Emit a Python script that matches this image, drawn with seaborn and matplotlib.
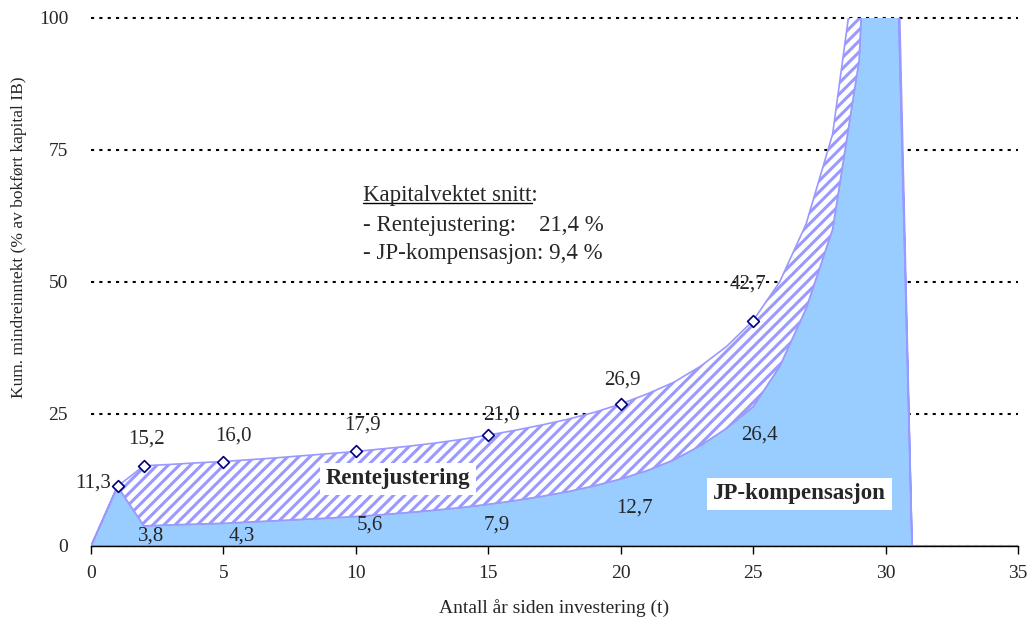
import matplotlib
matplotlib.use('Agg')
import matplotlib.pyplot as plt
from matplotlib.lines import Line2D
import seaborn as sns

# År siden investering (t)
aar = list(range(0, 36))

# JP-kompensasjon, kumulativ (nedre flate)
jp_komp = [0, 11.3, 3.8, 4.0, 4.15, 4.3, 4.55, 4.8, 5.05, 5.3,
           5.6, 5.95, 6.35, 6.8, 7.3, 7.9, 8.6, 9.4, 10.3, 11.4,
           12.7, 14.3, 16.3, 19.0, 22.3, 26.4, 34, 45, 60, 92,
           200, 0, 0, 0, 0, 0]

# JP-kompensasjon + rentejustering (øvre kant)
kum_total = [0, 11.3, 15.2, 15.45, 15.75, 16.0, 16.35, 16.7, 17.1, 17.5,
             17.9, 18.4, 18.9, 19.5, 20.2, 21.0, 21.9, 22.9, 24.0, 25.3,
             26.9, 28.8, 31.0, 34.0, 37.8, 42.7, 50, 61, 78, 115,
             215, 0, 0, 0, 0, 0]

# år med markør / etikett
merk_aar = [1, 2, 5, 10, 15, 20, 25]
jp_merk_aar = [2, 5, 10, 15, 20, 25]

# etikett-forskyvning i piksler (dx, dy)
total_offs = [(-24, 3), (2, 27), (10, 25), (7, 26), (13, 20), (2, 24), (-5, 36)]
jp_offs = [(7, -10), (18, -13), (14, -9), (8, -21), (14, -29), (6, -28)]

x_ticks = [0, 5, 10, 15, 20, 25, 30, 35]
y_ticks = [0, 25, 50, 75, 100]

BLAA = '#99CCFF'
LILLA = '#9999FF'
NAVY = '#000080'

sns.set_theme(style='white')
plt.rcParams['font.family'] = ['Liberation Serif', 'DejaVu Serif']
plt.rcParams['hatch.linewidth'] = 2.2


def komma(v):
    return f"{v:.1f}".replace('.', ',')


fig = plt.figure(figsize=(10.31, 6.22), dpi=100)
ax = fig.add_axes([0.0883, 0.1222, 0.8991, 0.8489])

# flater
ax.fill_between(aar, 0, jp_komp, facecolor=BLAA, edgecolor=LILLA,
                linewidth=1.2, zorder=2)
ax.fill_between(aar, jp_komp, kum_total, facecolor='white', edgecolor=LILLA,
                hatch='///', linewidth=1.2, zorder=2)

# markører på totalserien
merk_verdi = [kum_total[t] for t in merk_aar]
sns.scatterplot(x=merk_aar, y=merk_verdi, marker='D', s=36, color='white',
                edgecolor=NAVY, linewidth=1.2, ax=ax, zorder=5)

for t, v, (dx, dy) in zip(merk_aar, merk_verdi, total_offs):
    ax.annotate(komma(v), (t, v), xytext=(dx, dy), textcoords='offset pixels',
                ha='center', va='center', fontsize=15, zorder=6)

for t, (dx, dy) in zip(jp_merk_aar, jp_offs):
    v = jp_komp[t]
    ax.annotate(komma(v), (t, v), xytext=(dx, dy), textcoords='offset pixels',
                ha='center', va='center', fontsize=15, zorder=6)

# etiketter for flatene
boks = dict(facecolor='white', edgecolor='none', boxstyle='square,pad=0.25')
ax.text(11.59, 12.7, 'Rentejustering', ha='center', va='center',
        fontsize=16.5, fontweight='bold', bbox=boks, zorder=7)
ax.text(26.75, 9.85, 'JP-kompensasjon', ha='center', va='center',
        fontsize=16.5, fontweight='bold', bbox=boks, zorder=7)

# kapitalvektet snitt
tx = 10.28
ax.text(tx, 65.4, 'Kapitalvektet snitt:', fontsize=16.5, va='baseline')
ax.text(tx, 59.7, '- Rentejustering:    21,4 %', fontsize=16.5, va='baseline')
ax.text(tx, 54.3, '- JP-kompensasjon: 9,4 %', fontsize=16.5, va='baseline')

# akser
ax.set_xlim(0, 35)
ax.set_ylim(0, 100)
ax.set_xticks(x_ticks)
ax.set_yticks(y_ticks)
ax.tick_params(axis='x', length=6, width=1, color='black', direction='out',
               pad=8, labelsize=14, bottom=True)
ax.tick_params(axis='y', length=0, pad=16.5, labelsize=14)

ax.set_axisbelow(True)
ax.yaxis.grid(True, color='black', linestyle=(0, (1.5, 2.5)), linewidth=1.5)
ax.xaxis.grid(False)
for gl in ax.get_ygridlines():
    gl.set_clip_on(False)

sns.despine(ax=ax, left=True, top=True, right=True)
ax.spines['bottom'].set_color('black')
ax.spines['bottom'].set_linewidth(1)
ax.spines['bottom'].set_zorder(8)

ax.set_xlabel('Antall år siden investering (t)', fontsize=14, va='center')
ax.set_ylabel('Kum. mindreinntekt (% av bokført kapital IB)', fontsize=12.5,
              va='center')
ax.xaxis.set_label_coords(0.5, -0.118)
ax.yaxis.set_label_coords(-0.0777, 0.585)

# understreking av "Kapitalvektet snitt"
fig.canvas.draw()
r = fig.canvas.get_renderer()
tmp = ax.text(tx, 65.4, 'Kapitalvektet snitt', fontsize=16.5, va='baseline')
bb = tmp.get_window_extent(renderer=r)
tmp.remove()
yb = ax.transData.transform((tx, 65.4))[1] - 2
inv = ax.transAxes.inverted()
(x0, y0), (x1, _) = inv.transform([(bb.x0, yb), (bb.x1, yb)])
ax.add_line(Line2D([x0, x1], [y0, y0], transform=ax.transAxes,
                   color='black', linewidth=1, clip_on=False))

fig.savefig('out.png', dpi=100)
